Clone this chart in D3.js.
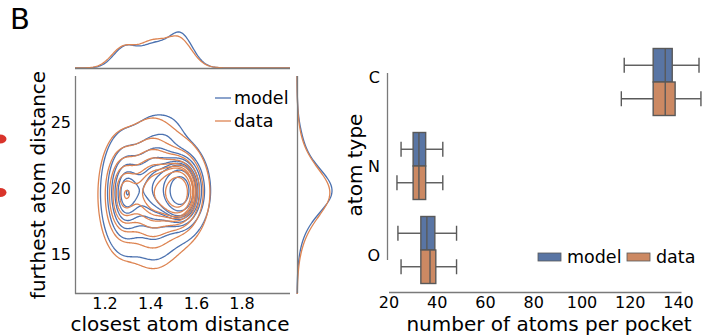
<!DOCTYPE html>
<html>
<head>
<meta charset="utf-8">
<script src="https://cdn.jsdelivr.net/npm/d3@7"></script>
<style>
  body { margin: 0; background: #fff; }
  svg { display: block; font-family: "DejaVu Sans", sans-serif; }
</style>
</head>
<body>
<div id="chart"></div>
<script>
// ---- data ----
const seriesNames = ["model", "data"];
const seriesColors = ["#4c72b0", "#dd8452"];
const boxColors = ["#5975a4", "#cc8963"];

// joint KDE, described as gaussian bumps: [x, y, sdX, sdY, weight]
const modelBumps = [
  [1.285, 19.6, 0.050, 2.2, 0.21],
  [1.410, 20.0, 0.055, 2.6, 0.16],
  [1.535, 19.8, 0.050, 1.4, 0.31],
  [1.440, 20.0, 0.095, 2.6, 0.24],
  [1.480, 24.0, 0.040, 1.0, 0.008]
];
const dataBumps = [
  [1.275, 19.5, 0.050, 2.2, 0.20],
  [1.405, 19.7, 0.060, 2.5, 0.22],
  [1.530, 19.7, 0.052, 1.5, 0.27],
  [1.430, 19.5, 0.100, 2.8, 0.26]
];
const distXTicks = [1.2, 1.4, 1.6, 1.8];
const distYTicks = [15, 20, 25];

// box plot: [whisker low, q1, median, q3, whisker high] per atom type
const atomTypes = ["C", "N", "O"];
const modelBoxes = [
  [117.5, 129.5, 134.5, 137.4, 148.5],
  [25.0, 30.0, 32.4, 35.2, 42.3],
  [23.7, 33.2, 35.7, 39.0, 48.0]
];
const dataBoxes = [
  [116.3, 129.5, 134.5, 138.6, 149.3],
  [23.3, 30.0, 32.4, 35.2, 42.3],
  [25.0, 33.2, 37.0, 39.4, 48.0]
];
const countTicks = [20, 40, 60, 80, 100, 120, 140];

// ---- setup ----
const W = 708, H = 336;
const svg = d3.select("#chart").append("svg")
  .attr("width", W).attr("height", H);

const spine = "#7a7a7a";
const tickSize = "16px", labelSize = "20px", legendSize = "17.5px";

// panel letter
svg.append("text").attr("x", 10).attr("y", 29)
  .style("font-size", "29px").text("B");

// clipped red marks on the left edge
[139, 192.5].forEach(cy => {
  svg.append("ellipse").attr("cx", 0).attr("cy", cy)
    .attr("rx", 6.5).attr("ry", 4.5).attr("fill", "#d9342b");
});

// ---- joint plot ----
const gx0 = 75, gx1 = 290, gy0 = 76, gy1 = 294;
const x = d3.scaleLinear().domain([1.0686, 2.010]).range([gx0, gx1]);
const y = d3.scaleLinear().domain([11.97, 28.5]).range([gy1, gy0]);

const allBumps = [modelBumps, dataBumps].map(b => {
  const tot = d3.sum(b, d => d[4]);
  return b.map(d => [d[0], d[1], d[2], d[3], d[4] / tot]);
});

const nx = gx1 - gx0, ny = gy1 - gy0;
function densityGrid(bumps) {
  const vals = new Float64Array(nx * ny);
  for (let j = 0; j < ny; j++) {
    const yv = y.invert(gy0 + j + 0.5);
    for (let i = 0; i < nx; i++) {
      const xv = x.invert(gx0 + i + 0.5);
      let s = 0;
      for (const [mx, my, sx, sy, w] of bumps) {
        const dx = (xv - mx) / sx, dy = (yv - my) / sy;
        s += w / (sx * sy) * Math.exp(-0.5 * (dx * dx + dy * dy));
      }
      vals[j * nx + i] = s;
    }
  }
  return vals;
}

// seaborn style iso-proportion levels (10 levels, thresh 0.05)
function isoLevels(vals) {
  const sorted = Array.from(vals).sort((a, b) => b - a);
  const total = d3.sum(sorted);
  let c = 0;
  const cum = sorted.map(v => (c += v) / total);
  return d3.range(9).map(k => {
    const p = 0.05 + k * 0.95 / 9;
    const idx = d3.bisectLeft(cum, 1 - p);
    return sorted[Math.min(idx, sorted.length - 1)];
  }).sort((a, b) => a - b);
}

const contourPath = d3.geoPath(d3.geoIdentity().translate([gx0, gy0]));
const gJoint = svg.append("g");
allBumps.forEach((bumps, k) => {
  const vals = densityGrid(bumps);
  const cs = d3.contours().size([nx, ny]).thresholds(isoLevels(vals))(Array.from(vals));
  gJoint.append("g").selectAll("path")
    .data(cs)
    .join("path")
      .attr("d", contourPath)
      .attr("fill", "none")
      .attr("stroke", seriesColors[k])
      .attr("stroke-width", 1.3);
});

// spines
svg.append("line").attr("x1", gx0 + 0.5).attr("x2", gx0 + 0.5).attr("y1", gy0).attr("y2", gy1)
  .attr("stroke", spine).attr("stroke-width", 1.3);
svg.append("line").attr("x1", gx0).attr("x2", gx1).attr("y1", gy1 - 0.5).attr("y2", gy1 - 0.5)
  .attr("stroke", spine).attr("stroke-width", 1.3);

// ticks
svg.append("g").selectAll("text").data(distXTicks).join("text")
  .attr("x", d => x(d)).attr("y", 309).attr("text-anchor", "middle")
  .style("font-size", tickSize).text(d => d3.format(".1f")(d));
svg.append("g").selectAll("text").data(distYTicks).join("text")
  .attr("x", 71).attr("y", d => y(d) + 6).attr("text-anchor", "end")
  .style("font-size", tickSize).text(d => d);

svg.append("text").attr("x", 180).attr("y", 331.3).attr("text-anchor", "middle")
  .style("font-size", labelSize).text("closest atom distance");
svg.append("text").attr("transform", "translate(45,185)rotate(-90)").attr("text-anchor", "middle")
  .style("font-size", labelSize).text("furthest atom distance");

// legend
seriesNames.forEach((name, k) => {
  const ly = 104 + k * 23;
  svg.append("line").attr("x1", 215).attr("x2", 231).attr("y1", ly - 6).attr("y2", ly - 6)
    .attr("stroke", seriesColors[k]).attr("stroke-width", 1.3);
  svg.append("text").attr("x", 234).attr("y", ly)
    .style("font-size", legendSize).text(name);
});

// ---- marginals ----
function marg(bumps, v, axis) {
  let s = 0;
  for (const b of bumps) {
    const m = b[axis], sd = b[axis + 2], w = b[4];
    const z = (v - m) / sd;
    s += w / sd * Math.exp(-0.5 * z * z);
  }
  return s / Math.sqrt(2 * Math.PI);
}
const xs = d3.range(gx0, gx1 + 0.5, 1).map(p => x.invert(p));
const ys = d3.range(gy0, gy1 + 0.5, 1).map(p => y.invert(p));
const topMax = d3.max(allBumps, b => d3.max(xs, v => marg(b, v, 0)));
const rightMax = d3.max(allBumps, b => d3.max(ys, v => marg(b, v, 1)));

const topY = d3.scaleLinear().domain([0, topMax]).range([68, 32]);
const rightX = d3.scaleLinear().domain([0, rightMax]).range([297, 332]);

allBumps.forEach((bumps, k) => {
  svg.append("path")
    .datum(xs)
    .attr("fill", "none").attr("stroke", seriesColors[k]).attr("stroke-width", 1.3)
    .attr("d", d3.line().x(v => x(v)).y(v => topY(marg(bumps, v, 0))));
  svg.append("path")
    .datum(ys)
    .attr("fill", "none").attr("stroke", seriesColors[k]).attr("stroke-width", 1.3)
    .attr("d", d3.line().y(v => y(v)).x(v => rightX(marg(bumps, v, 1))));
});
svg.append("line").attr("x1", gx0).attr("x2", gx1).attr("y1", 68.5).attr("y2", 68.5)
  .attr("stroke", spine).attr("stroke-width", 1.3);
svg.append("line").attr("x1", 297.5).attr("x2", 297.5).attr("y1", gy0).attr("y2", gy1 - 1)
  .attr("stroke", spine).attr("stroke-width", 1.3);

// ---- box plot ----
const bx = d3.scaleLinear().domain([20, 140]).range([389, 678.5]);
const tickY = d3.scalePoint().domain(atomTypes).range([77, 255]);
const boxY = d3.scalePoint().domain(atomTypes).range([82, 250]);
const boxH = 33.5, capHalf = 7.5;
const edge = "#595959";

const gBox = svg.append("g");
[modelBoxes, dataBoxes].forEach((boxes, k) => {
  boxes.forEach((st, i) => {
    const [lo, q1, med, q3, hi] = st;
    const top = boxY(atomTypes[i]) - boxH + k * boxH;
    const cy = top + boxH / 2;
    const g = gBox.append("g");
    g.append("line").attr("x1", bx(lo)).attr("x2", bx(q1)).attr("y1", cy).attr("y2", cy);
    g.append("line").attr("x1", bx(q3)).attr("x2", bx(hi)).attr("y1", cy).attr("y2", cy);
    g.append("line").attr("x1", bx(lo)).attr("x2", bx(lo)).attr("y1", cy - capHalf).attr("y2", cy + capHalf);
    g.append("line").attr("x1", bx(hi)).attr("x2", bx(hi)).attr("y1", cy - capHalf).attr("y2", cy + capHalf);
    g.append("rect").attr("x", bx(q1)).attr("y", top).attr("width", bx(q3) - bx(q1)).attr("height", boxH)
      .attr("fill", boxColors[k]);
    g.append("line").attr("x1", bx(med)).attr("x2", bx(med)).attr("y1", top).attr("y2", top + boxH);
    g.selectAll("line,rect").attr("stroke", edge).attr("stroke-width", 1.4);
  });
});

svg.append("line").attr("x1", 387.5).attr("x2", 387.5).attr("y1", tickY("C") - 4).attr("y2", tickY("O") + 5)
  .attr("stroke", spine).attr("stroke-width", 1.3);
svg.append("line").attr("x1", bx(20)).attr("x2", bx(140) + 3).attr("y1", 292.5).attr("y2", 292.5)
  .attr("stroke", spine).attr("stroke-width", 1.3);

svg.append("g").selectAll("text").data(atomTypes).join("text")
  .attr("x", 380).attr("y", d => tickY(d) + 6).attr("text-anchor", "end")
  .style("font-size", tickSize).text(d => d);
svg.append("g").selectAll("text").data(countTicks).join("text")
  .attr("x", d => bx(d)).attr("y", 308).attr("text-anchor", "middle")
  .style("font-size", tickSize).text(d => d);

svg.append("text").attr("x", 549).attr("y", 331).attr("text-anchor", "middle")
  .style("font-size", labelSize).text("number of atoms per pocket");
svg.append("text").attr("transform", "translate(362,165)rotate(-90)").attr("text-anchor", "middle")
  .style("font-size", labelSize).text("atom type");

// box legend
const legX = [538, 627];
seriesNames.forEach((name, k) => {
  svg.append("rect").attr("x", legX[k]).attr("y", 253).attr("width", 23).attr("height", 8)
    .attr("fill", boxColors[k]).attr("stroke", edge).attr("stroke-width", 0.8);
  svg.append("text").attr("x", legX[k] + 29).attr("y", 263)
    .style("font-size", legendSize).text(name);
});
</script>
</body>
</html>
